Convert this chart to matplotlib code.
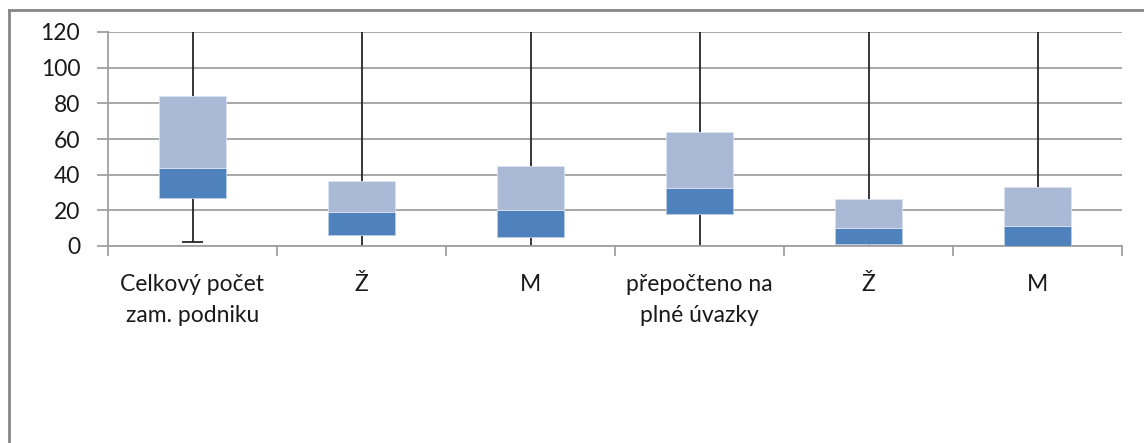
import matplotlib.pyplot as plt
from matplotlib.lines import Line2D

plt.rcParams['font.family'] = ['Lato', 'DejaVu Sans']

# box plot data, whisker tops run past the 120 limit
categories = ["Celkový počet\nzam. podniku", "Ž", "M",
              "přepočteno na\nplné úvazky", "Ž", "M"]
mins = [2, 0, 0, 0, 0, 0]
q1 = [27, 6, 5, 18, 1, 0]
medians = [44, 19, 20, 32.5, 10, 11]
q3 = [84, 36.5, 45, 64, 26.5, 33]
maxs = [150, 150, 150, 150, 150, 150]

dark = "#4F81BD"
light = "#AAB9D6"
grid_col = "#A0A0A0"

fig = plt.figure(figsize=(11.44, 4.43), dpi=100)
ax = fig.add_axes([108 / 1144, 1 - 246 / 443, (1122 - 108) / 1144, (246 - 32) / 443])

x = list(range(len(categories)))
low = [m - a for m, a in zip(medians, q1)]
high = [b - m for b, m in zip(q3, medians)]

# whiskers behind boxes
ax.vlines(x, mins, maxs, color="#262626", lw=1.3, zorder=2)
caps = [(i, m) for i, m in zip(x, mins) if m > 0]
for i, m in caps:
    ax.hlines(m, i - 0.06, i + 0.06, color="#262626", lw=1.3, zorder=2)

ax.bar(x, low, bottom=q1, width=0.4, color=dark, edgecolor="#BCCBE4", lw=0.6, zorder=3)
ax.bar(x, high, bottom=medians, width=0.4, color=light, edgecolor="#DCE3F0", lw=0.6, zorder=3)

ax.set_xlim(-0.5, len(categories) - 0.5)
ax.set_ylim(0, 120)
ax.set_yticks(range(0, 121, 20))
ax.yaxis.grid(True, color=grid_col, lw=1.3)
ax.set_axisbelow(True)

ax.set_xticks(x)
ax.set_xticklabels(categories, fontsize=16.5, linespacing=1.62, color="#1a1a1a")
ax.set_xticks([i - 0.5 for i in range(len(categories) + 1)], minor=True)
ax.tick_params(axis="x", which="major", length=0, pad=20)
ax.tick_params(axis="x", which="minor", length=7, width=1.3, color=grid_col)
ax.tick_params(axis="y", length=8, width=1.3, color=grid_col, labelsize=16.5,
               pad=12, labelcolor="#1a1a1a")

for s in ["top", "right"]:
    ax.spines[s].set_visible(False)
for s in ["left", "bottom"]:
    ax.spines[s].set_color(grid_col)
    ax.spines[s].set_linewidth(1.3)

# chart area border (only top and left visible in the crop)
fig.add_artist(Line2D([9 / 1144, 1], [1 - 10 / 443, 1 - 10 / 443],
                      transform=fig.transFigure, color="#868686", lw=2))
fig.add_artist(Line2D([9 / 1144, 9 / 1144], [0, 1 - 10 / 443],
                      transform=fig.transFigure, color="#868686", lw=2))

fig.savefig("out.png", dpi=100)
